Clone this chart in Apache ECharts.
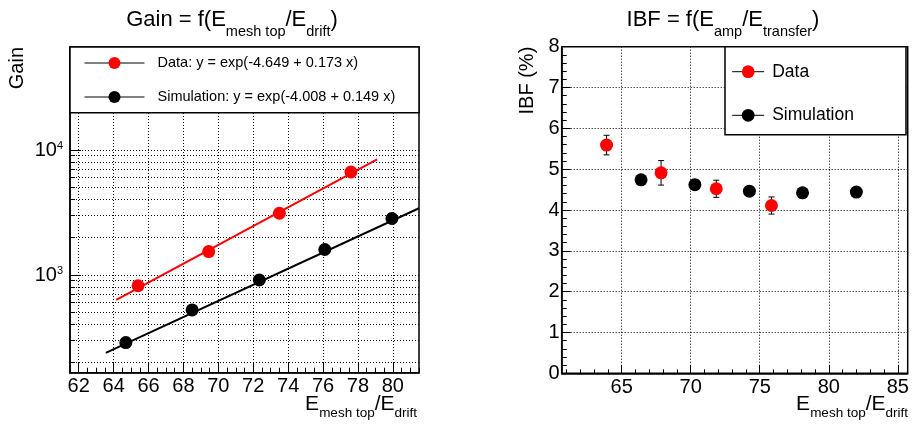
<!DOCTYPE html>
<html><head><meta charset="utf-8">
<script src="https://cdn.jsdelivr.net/npm/echarts@6/dist/echarts.min.js"></script>
<style>html,body{margin:0;padding:0;background:#fff}#c{width:912px;height:428px}</style>
</head><body><div id="c"></div>
<script>
// ---------- Left panel: Gain = f(E_mesh top / E_drift) ----------
const gainDataX = [65.4, 69.45, 73.5, 77.6];
const gainDataY = [820, 1540, 3120, 6670];
const gainSimX = [64.7, 68.5, 72.35, 76.1, 79.95];
const gainSimY = [288, 525, 912, 1600, 2830];
const fitDataX = [64.15, 79.1];
const fitDataY = [632, 8400];
const fitSimX = [63.55, 81.5];
const fitSimY = [238, 3420];
const gainXTicks = [62, 64, 66, 68, 70, 72, 74, 76, 78, 80];
const gainYMajor = [1000, 10000];
const gainYMinor = [200, 300, 400, 500, 600, 700, 800, 900, 2000, 3000, 4000, 5000, 6000, 7000, 8000, 9000, 20000, 30000, 40000, 50000, 60000];
const legGainData = 'Data: y = exp(-4.649 + 0.173 x)';
const legGainSim = 'Simulation: y = exp(-4.008 + 0.149 x)';

// ---------- Right panel: IBF = f(E_amp / E_transfer) ----------
const ibfDataX = [63.9, 67.85, 71.85, 75.85];
const ibfDataY = [5.59, 4.91, 4.52, 4.11];
const ibfDataErr = [0.24, 0.30, 0.21, 0.21];
const ibfSimX = [66.4, 70.3, 74.25, 78.1, 82.0];
const ibfSimY = [4.74, 4.62, 4.46, 4.42, 4.44];
const ibfXTicks = [65, 70, 75, 80, 85];
const ibfXMinor = [61, 62, 63, 64, 65, 66, 67, 68, 69, 70, 71, 72, 73, 74, 75, 76, 77, 78, 79, 80, 81, 82, 83, 84, 85];

const FF = '"Liberation Sans", Arial, Helvetica, sans-serif';
const zip = (a, b) => a.map((v, i) => [v, b[i]]);
const dotted = { show: true, lineStyle: { color: '#000', width: 1, type: [1, 2] } };
const tickStyle = { color: '#000', width: 1 };
const axLine = { show: true, lineStyle: { color: '#000', width: 1.5 } };

const chart = echarts.init(document.getElementById('c'), null, { renderer: 'canvas' });
chart.setOption({
  animation: false,
  backgroundColor: '#fff',
  grid: [
    { left: 70, top: 47, width: 349, height: 325.7, show: true, borderColor: '#000', borderWidth: 1.5, backgroundColor: 'transparent', containLabel: false, outerBoundsMode: 'none' },
    { left: 561.7, top: 46.7, width: 346, height: 326.6, show: true, borderColor: '#000', borderWidth: 1.5, backgroundColor: 'transparent', containLabel: false, outerBoundsMode: 'none' }
  ],
  xAxis: [
    { gridIndex: 0, type: 'value', position: 'bottom', min: 61.5, max: 81.5,
      axisLine: axLine,
      axisTick: { show: true, inside: true, length: 10, customValues: gainXTicks, lineStyle: tickStyle },
      axisLabel: { show: true, customValues: gainXTicks, margin: 4, fontSize: 20, fontFamily: FF, color: '#000' },
      splitLine: dotted },
    { gridIndex: 0, type: 'value', position: 'bottom', min: 61.5, max: 81.5, interval: 0.5,
      axisLine: { show: false },
      axisTick: { show: true, inside: true, length: 5, lineStyle: tickStyle },
      axisLabel: { show: false }, splitLine: { show: false } },
    { gridIndex: 1, type: 'value', position: 'bottom', min: 60.65, max: 85.72,
      axisLine: axLine,
      axisTick: { show: true, inside: true, length: 8, customValues: ibfXTicks, lineStyle: tickStyle },
      axisLabel: { show: true, customValues: ibfXTicks, margin: 4, fontSize: 20, fontFamily: FF, color: '#000' },
      splitLine: dotted },
    { gridIndex: 1, type: 'value', position: 'bottom', min: 60.65, max: 85.72,
      axisLine: { show: false },
      axisTick: { show: true, inside: true, length: 4, customValues: ibfXMinor, lineStyle: tickStyle },
      axisLabel: { show: false }, splitLine: { show: false } }
  ],
  yAxis: [
    { gridIndex: 0, type: 'log', position: 'left', min: 165.3, max: 66700,
      axisLine: axLine,
      axisTick: { show: true, inside: true, length: 11, customValues: gainYMajor, lineStyle: tickStyle },
      axisLabel: { show: true, customValues: gainYMajor, margin: 7, color: '#000',
        formatter: v => '{b|10}{s|' + Math.round(Math.log10(v)) + '}',
        rich: { b: { fontSize: 20, lineHeight: 20, fontFamily: FF, color: '#000', verticalAlign: 'top' },
                s: { fontSize: 11, lineHeight: 11, fontFamily: FF, color: '#000', verticalAlign: 'top' } } },
      splitLine: dotted },
    { gridIndex: 0, type: 'log', position: 'left', min: 165.3, max: 66700,
      axisLine: { show: false },
      axisTick: { show: true, inside: true, length: 5, customValues: gainYMinor, lineStyle: tickStyle },
      axisLabel: { show: false }, splitLine: dotted },
    { gridIndex: 1, type: 'value', position: 'left', min: 0, max: 8, interval: 1,
      axisLine: axLine,
      axisTick: { show: true, inside: true, length: 9, lineStyle: tickStyle },
      minorTick: { show: true, splitNumber: 5, length: 5, lineStyle: tickStyle },
      axisLabel: { show: true, margin: 2, fontSize: 20, fontFamily: FF, color: '#000' },
      splitLine: dotted }
  ],
  legend: [
    { data: [legGainData, legGainSim], left: 84, top: 55.5, orient: 'vertical', padding: 0,
      itemWidth: 60, itemHeight: 15, itemGap: 19, selectedMode: false, z: 10,
      lineStyle: { color: '#000', width: 1, opacity: 1 },
      textStyle: { fontFamily: FF, fontSize: 14.5, color: '#000', lineHeight: 15, padding: [0, 0, 0, 8] } },
    { data: ['Data', 'Simulation'], left: 731.7, top: 62.7, orient: 'vertical', padding: 0,
      itemWidth: 32, itemHeight: 16, itemGap: 25.6, selectedMode: false, z: 10,
      lineStyle: { color: '#000', width: 1, opacity: 1 },
      textStyle: { fontFamily: FF, fontSize: 17.5, color: '#000', lineHeight: 16, padding: [0, 0, 0, 3] } }
  ],
  graphic: [
    { type: 'rect', z: 5, shape: { x: 70, y: 47, width: 349, height: 65.7 }, style: { fill: '#fff', stroke: '#000', lineWidth: 1.5 } },
    { type: 'rect', z: 5, shape: { x: 725, y: 46.7, width: 181, height: 88 }, style: { fill: '#fff', stroke: '#000', lineWidth: 1.5 } },
    { type: 'text', z: 10, x: 232, y: 8.75, style: { text: '{m|Gain = f(E}{s|mesh top}{m|/E}{s|drift}{m|)}', align: 'center', verticalAlign: 'top',
      rich: { m: { fontSize: 22, lineHeight: 22, fontFamily: FF, fill: '#000', verticalAlign: 'top' },
              s: { fontSize: 14.5, lineHeight: 14.5, fontFamily: FF, fill: '#000', verticalAlign: 'top', padding: [15.6, 0, 0, 0] } } } },
    { type: 'text', z: 10, x: 723, y: 8.75, style: { text: '{m|IBF = f(E}{s|amp}{m|/E}{s|transfer}{m|)}', align: 'center', verticalAlign: 'top',
      rich: { m: { fontSize: 22, lineHeight: 22, fontFamily: FF, fill: '#000', verticalAlign: 'top' },
              s: { fontSize: 14.5, lineHeight: 14.5, fontFamily: FF, fill: '#000', verticalAlign: 'top', padding: [15.6, 0, 0, 0] } } } },
    { type: 'text', z: 10, x: 417, y: 393.9, style: { text: '{m|E}{s|mesh top}{m|/E}{s|drift}', align: 'right', verticalAlign: 'top',
      rich: { m: { fontSize: 21, lineHeight: 21, fontFamily: FF, fill: '#000', verticalAlign: 'top' },
              s: { fontSize: 13.5, lineHeight: 13.5, fontFamily: FF, fill: '#000', verticalAlign: 'top', padding: [12, 0, 0, 0] } } } },
    { type: 'text', z: 10, x: 908, y: 393.9, style: { text: '{m|E}{s|mesh top}{m|/E}{s|drift}', align: 'right', verticalAlign: 'top',
      rich: { m: { fontSize: 21, lineHeight: 21, fontFamily: FF, fill: '#000', verticalAlign: 'top' },
              s: { fontSize: 13.5, lineHeight: 13.5, fontFamily: FF, fill: '#000', verticalAlign: 'top', padding: [12, 0, 0, 0] } } } },
    { type: 'text', z: 10, x: 17.4, y: 47, rotation: Math.PI / 2, style: { text: 'Gain', fontSize: 20, fontFamily: FF, fill: '#000', align: 'right', verticalAlign: 'middle' } },
    { type: 'text', z: 10, x: 527, y: 46.7, rotation: Math.PI / 2, style: { text: 'IBF (%)', fontSize: 20, fontFamily: FF, fill: '#000', align: 'right', verticalAlign: 'middle' } }
  ],
  series: [
    { name: 'fitData', type: 'line', xAxisIndex: 0, yAxisIndex: 0, data: zip(fitDataX, fitDataY), symbol: 'none', silent: true, z: 2,
      lineStyle: { color: '#ff0000', width: 2 } },
    { name: 'fitSim', type: 'line', xAxisIndex: 0, yAxisIndex: 0, data: zip(fitSimX, fitSimY), symbol: 'none', silent: true, z: 2,
      lineStyle: { color: '#000', width: 2 } },
    { name: legGainData, type: 'line', xAxisIndex: 0, yAxisIndex: 0, data: zip(gainDataX, gainDataY), symbol: 'circle', symbolSize: 13, showSymbol: true, z: 3,
      itemStyle: { color: '#ff0000' }, lineStyle: { opacity: 0 } },
    { name: legGainSim, type: 'line', xAxisIndex: 0, yAxisIndex: 0, data: zip(gainSimX, gainSimY), symbol: 'circle', symbolSize: 13, showSymbol: true, z: 3,
      itemStyle: { color: '#000' }, lineStyle: { opacity: 0 } },
    { name: 'ibfErr', type: 'custom', xAxisIndex: 2, yAxisIndex: 2, z: 2,
      data: ibfDataX.map((x, i) => [x, ibfDataY[i] - ibfDataErr[i], ibfDataY[i] + ibfDataErr[i]]),
      encode: { x: 0, y: [1, 2] },
      renderItem: (params, api) => {
        const x = api.value(0), lo = api.value(1), hi = api.value(2);
        const p1 = api.coord([x, lo]), p2 = api.coord([x, hi]);
        const hw = 3, st = { stroke: '#000', lineWidth: 1 };
        return { type: 'group', children: [
          { type: 'line', shape: { x1: p1[0], y1: p1[1], x2: p2[0], y2: p2[1] }, style: st },
          { type: 'line', shape: { x1: p1[0] - hw, y1: p1[1], x2: p1[0] + hw, y2: p1[1] }, style: st },
          { type: 'line', shape: { x1: p2[0] - hw, y1: p2[1], x2: p2[0] + hw, y2: p2[1] }, style: st }
        ] };
      } },
    { name: 'Data', type: 'line', xAxisIndex: 2, yAxisIndex: 2, data: zip(ibfDataX, ibfDataY), symbol: 'circle', symbolSize: 13, showSymbol: true, z: 3,
      itemStyle: { color: '#ff0000' }, lineStyle: { opacity: 0 } },
    { name: 'Simulation', type: 'line', xAxisIndex: 2, yAxisIndex: 2, data: zip(ibfSimX, ibfSimY), symbol: 'circle', symbolSize: 13, showSymbol: true, z: 3,
      itemStyle: { color: '#000' }, lineStyle: { opacity: 0 } }
  ]
});
</script></body></html>
